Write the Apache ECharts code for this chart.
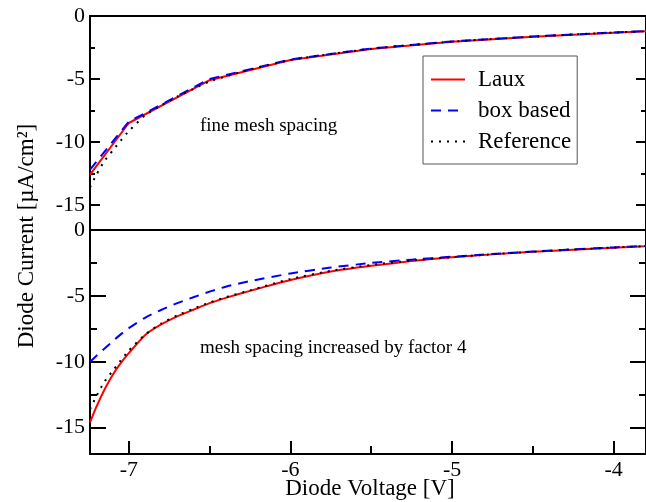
<!DOCTYPE html>
<html>
<head>
<meta charset="utf-8">
<script src="https://cdn.jsdelivr.net/npm/echarts@6/dist/echarts.min.js"></script>
<style>
  html, body { margin: 0; padding: 0; background: #fff; }
  #main { width: 646px; height: 502px; }
</style>
</head>
<body>
<div id="main"></div>
<script>
// voltages (V)
var voltCoarse = [-7.24, -7.0, -6.5, -6.0, -5.5, -5.0, -4.5, -4.0, -3.8];
var voltFine = [-7.24, -7.2, -7.15, -7.1, -7.05, -7.0, -6.9, -6.8, -6.7, -6.6, -6.5, -6.4,
                -6.25, -6.0, -5.75, -5.5, -5.25, -5.0, -4.75, -4.5, -4.25, -4.0, -3.8];

// top panel: fine mesh spacing
var lauxFine = [-12.6, -8.5, -5.1, -3.5, -2.62, -2.05, -1.65, -1.33, -1.22];
var boxFine = [-12.2, -8.4, -5.0, -3.45, -2.58, -2.02, -1.63, -1.31, -1.2];
var refTop = [-13.6, -12.6, -11.5, -10.7, -9.9, -9.15, -7.9, -7.1, -6.4, -5.8, -5.2, -4.8,
              -4.25, -3.5, -3.02, -2.6, -2.3, -2.04, -1.83, -1.64, -1.47, -1.32, -1.21];

// bottom panel: mesh spacing increased by factor 4
var lauxCoarse = [-14.6, -13.4, -12.1, -11.0, -10.1, -9.35, -7.98, -7.17, -6.55, -6.05, -5.55, -5.15,
                  -4.62, -3.8, -3.15, -2.72, -2.36, -2.07, -1.85, -1.66, -1.49, -1.34, -1.23];
var boxCoarse = [-10.0, -9.55, -9.0, -8.45, -7.92, -7.45, -6.66, -6.07, -5.55, -5.1, -4.68, -4.3,
                 -3.88, -3.3, -2.85, -2.5, -2.25, -2.03, -1.82, -1.64, -1.47, -1.32, -1.21];
var refBottom = [-13.6, -12.6, -11.5, -10.7, -9.9, -9.15, -7.95, -7.1, -6.48, -5.98, -5.5, -5.1,
                 -4.58, -3.72, -3.1, -2.65, -2.32, -2.06, -1.84, -1.65, -1.48, -1.33, -1.22];

// ticks
var xMajor = [-7, -6, -5, -4];
var xMinor = [-6.5, -5.5, -4.5];
var yMajor = [0, -5, -10, -15];
var yMinor = [-2.5, -7.5, -12.5];

function pairs(xs, ys) {
    return xs.map(function (x, i) { return [x, ys[i]]; });
}

var font = 'Liberation Serif';
var myChart = echarts.init(document.getElementById('main'), null, { renderer: 'canvas' });

function yAx(grid, pos, ticks, len, labels) {
    return {
        type: 'value', gridIndex: grid, position: pos, min: -17, max: 0,
        axisLine: { show: false, onZero: false },
        splitLine: { show: false },
        axisTick: { show: true, inside: true, length: len, customValues: ticks,
                    lineStyle: { color: '#000', width: 2 } },
        axisLabel: { show: labels, customValues: ticks, margin: 5,
                     color: '#000', fontSize: 22, fontFamily: font }
    };
}

function xAx(grid, ticks, len, labels) {
    return {
        type: 'value', gridIndex: grid, position: 'bottom', min: -7.24, max: -3.8,
        axisLine: { show: false, onZero: false },
        splitLine: { show: false },
        axisTick: { show: true, inside: true, length: len, customValues: ticks,
                    lineStyle: { color: '#000', width: 2 } },
        axisLabel: { show: labels, customValues: ticks, margin: 5,
                     color: '#000', fontSize: 22, fontFamily: font }
    };
}

var option = {
    animation: false,
    textStyle: { fontFamily: font },
    grid: [
        { left: 90, right: -1, top: 16, height: 214, show: true, borderColor: '#000', borderWidth: 2 },
        { left: 90, right: -1, top: 230, height: 224, show: true, borderColor: '#000', borderWidth: 2 }
    ],
    xAxis: [
        {
            type: 'value', gridIndex: 0, position: 'bottom', min: -7.24, max: -3.8,
            axisLine: { show: false, onZero: false }, splitLine: { show: false },
            axisTick: { show: false }, axisLabel: { show: false }
        },
        xAx(1, xMajor, 13, true),
        xAx(1, xMinor, 8, false)
    ],
    yAxis: [
        yAx(0, 'left', yMajor, 10, true),
        yAx(0, 'left', yMinor, 5, false),
        yAx(0, 'right', yMajor, 10, false),
        yAx(0, 'right', yMinor, 5, false),
        yAx(1, 'left', yMajor, 16, true),
        yAx(1, 'left', yMinor, 7, false),
        yAx(1, 'right', yMajor, 16, false),
        yAx(1, 'right', yMinor, 7, false)
    ],
    legend: {
        data: ['Laux', 'box based', 'Reference'],
        orient: 'vertical',
        left: 423, top: 56,
        padding: [12, 6, 11, 7],
        itemWidth: 34, itemHeight: 14, itemGap: 8,
        borderColor: '#555', borderWidth: 1,
        itemStyle: { opacity: 0 },
        textStyle: { fontSize: 23, color: '#000', fontFamily: font, padding: [0, 0, 0, 8] }
    },
    series: [
        { name: 'Laux', type: 'line', xAxisIndex: 0, yAxisIndex: 0, symbol: 'none',
          data: pairs(voltCoarse, lauxFine), lineStyle: { color: '#ff0000', width: 2 }, itemStyle: { color: '#ff0000' } },
        { name: 'box based', type: 'line', xAxisIndex: 0, yAxisIndex: 0, symbol: 'none',
          data: pairs(voltCoarse, boxFine), lineStyle: { color: '#0000ff', width: 2, type: [10, 7] }, itemStyle: { color: '#0000ff' } },
        { name: 'Reference', type: 'line', xAxisIndex: 0, yAxisIndex: 0, symbol: 'none', smooth: 0.2,
          data: pairs(voltFine, refTop), lineStyle: { color: '#000', width: 2, type: [2, 6] }, itemStyle: { color: '#000' } },
        { name: 'Laux', type: 'line', xAxisIndex: 1, yAxisIndex: 4, symbol: 'none', smooth: 0.2,
          data: pairs(voltFine, lauxCoarse), lineStyle: { color: '#ff0000', width: 2 }, itemStyle: { color: '#ff0000' } },
        { name: 'box based', type: 'line', xAxisIndex: 1, yAxisIndex: 4, symbol: 'none', smooth: 0.2,
          data: pairs(voltFine, boxCoarse), lineStyle: { color: '#0000ff', width: 2, type: [10, 7] }, itemStyle: { color: '#0000ff' } },
        { name: 'Reference', type: 'line', xAxisIndex: 1, yAxisIndex: 4, symbol: 'none', smooth: 0.2,
          data: pairs(voltFine, refBottom), lineStyle: { color: '#000', width: 2, type: [2, 6] }, itemStyle: { color: '#000' } }
    ],
    graphic: [
        { type: 'text', x: 200, y: 126,
          style: { text: 'fine mesh spacing', font: '19px "Liberation Serif"', fill: '#000',
                   align: 'left', verticalAlign: 'middle' } },
        { type: 'text', x: 200, y: 348,
          style: { text: 'mesh spacing increased by factor 4', font: '19px "Liberation Serif"', fill: '#000',
                   align: 'left', verticalAlign: 'middle' } },
        { type: 'text', x: 370, y: 489,
          style: { text: 'Diode Voltage [V]', font: '23px "Liberation Serif"', fill: '#000',
                   align: 'center', verticalAlign: 'middle' } },
        { type: 'text', x: 27, y: 236, rotation: Math.PI / 2,
          style: { text: 'Diode Current [µA/cm²]', font: '23px "Liberation Serif"', fill: '#000',
                   align: 'center', verticalAlign: 'middle' } }
    ]
};

myChart.setOption(option);
</script>
</body>
</html>
